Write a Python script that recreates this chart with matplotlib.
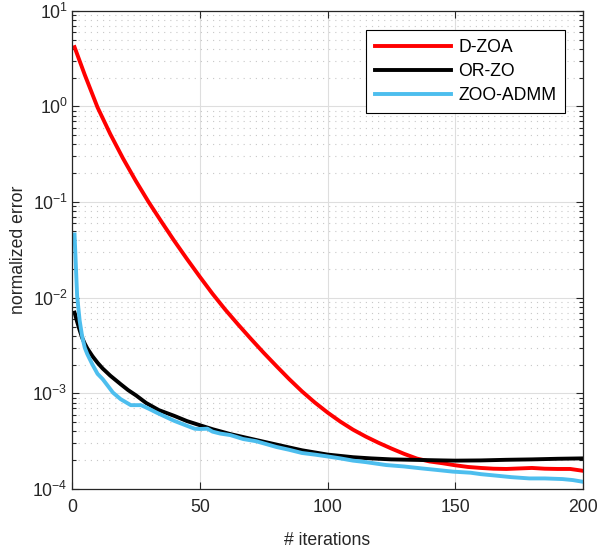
import matplotlib
matplotlib.use("Agg")
import matplotlib.pyplot as plt
from matplotlib.ticker import LogLocator, NullFormatter, FixedLocator

plt.rcParams['font.family'] = ['Liberation Sans', 'DejaVu Sans']
plt.rcParams['mathtext.fontset'] = 'custom'
plt.rcParams['mathtext.rm'] = 'Liberation Sans'
plt.rcParams['mathtext.it'] = 'Liberation Sans'
plt.rcParams['mathtext.default'] = 'regular'
plt.rcParams['axes.unicode_minus'] = False

# ---- data ----
dzoa_x = [1, 5, 10, 15, 20, 25, 30, 35, 40, 45, 50, 55, 60, 65, 70, 75, 80, 85, 90, 95,
          100, 105, 110, 115, 120, 125, 130, 135, 140, 145, 150, 155, 160, 165, 170, 175,
          180, 185, 190, 195, 200]
dzoa_y = [4.17, 2.14, 0.977, 0.513, 0.285, 0.166, 0.100, 0.0624, 0.0394, 0.0254, 0.0166,
          0.0110, 7.50e-3, 5.25e-3, 3.72e-3, 2.66e-3, 1.93e-3, 1.41e-3, 1.05e-3, 8.04e-4,
          6.31e-4, 5.07e-4, 4.17e-4, 3.53e-4, 3.04e-4, 2.65e-4, 2.33e-4, 2.08e-4, 1.94e-4,
          1.86e-4, 1.77e-4, 1.70e-4, 1.66e-4, 1.63e-4, 1.62e-4, 1.64e-4, 1.66e-4, 1.63e-4,
          1.62e-4, 1.62e-4, 1.55e-4]

orzo_x = [1, 2, 3, 4, 5, 6, 8, 10, 12, 15, 19, 22, 25, 29, 34, 40, 45, 50, 55, 62, 70, 76,
          85, 90, 100, 110, 117, 125, 137, 145, 150, 160, 170, 180, 190, 200]
orzo_y = [6.98e-3, 5.62e-3, 4.57e-3, 3.80e-3, 3.31e-3, 2.95e-3, 2.45e-3, 2.09e-3, 1.82e-3,
          1.53e-3, 1.25e-3, 1.08e-3, 9.55e-4, 7.94e-4, 6.68e-4, 5.82e-4, 5.13e-4, 4.65e-4,
          4.22e-4, 3.75e-4, 3.35e-4, 3.08e-4, 2.72e-4, 2.54e-4, 2.29e-4, 2.15e-4, 2.09e-4,
          2.04e-4, 2.01e-4, 1.99e-4, 1.98e-4, 1.99e-4, 2.02e-4, 2.04e-4, 2.07e-4, 2.09e-4]

admm_x = [1, 2, 3, 4, 5, 6, 8, 10, 12, 14, 16, 19, 23, 27, 30, 33, 37, 40, 45, 48, 50, 53,
          55, 58, 62, 67, 72, 76, 80, 85, 90, 95, 100, 105, 110, 115, 123, 130, 137, 143,
          149, 156, 160, 166, 172, 179, 185, 192, 196, 200]
admm_y = [4.58e-2, 1.05e-2, 5.75e-3, 3.9e-3, 3.0e-3, 2.57e-3, 2.0e-3, 1.6e-3, 1.41e-3, 1.20e-3,
          1.02e-3, 8.71e-4, 7.53e-4, 7.53e-4, 6.92e-4, 6.31e-4, 5.62e-4, 5.16e-4, 4.58e-4,
          4.27e-4, 4.24e-4, 4.27e-4, 3.98e-4, 3.80e-4, 3.66e-4, 3.33e-4, 3.16e-4, 2.95e-4,
          2.75e-4, 2.57e-4, 2.38e-4, 2.29e-4, 2.19e-4, 2.09e-4, 1.98e-4, 1.91e-4, 1.78e-4,
          1.72e-4, 1.64e-4, 1.58e-4, 1.52e-4, 1.48e-4, 1.43e-4, 1.38e-4, 1.33e-4, 1.29e-4,
          1.29e-4, 1.27e-4, 1.24e-4, 1.19e-4]

labels = ['D-ZOA', 'OR-ZO', 'ZOO-ADMM']
colors = ['#ff0000', '#000000', '#4DBEEE']
x_ticks = [0, 50, 100, 150, 200]

fig = plt.figure(figsize=(6.0, 5.51), dpi=100)
ax = fig.add_axes([0.12, 1 - 489 / 551, (583 - 72) / 600, (489 - 10.8) / 551])

for xs, ys, lab, c in zip([dzoa_x, orzo_x, admm_x], [dzoa_y, orzo_y, admm_y], labels, colors):
    ax.plot(xs, ys, color=c, lw=2.8, label=lab, solid_joinstyle='round')

ax.set_yscale('log')
ax.set_xlim(0, 200)
ax.set_ylim(1e-4, 1e1)
ax.xaxis.set_major_locator(FixedLocator(x_ticks))
ax.yaxis.set_major_locator(LogLocator(base=10, numticks=10))
ax.yaxis.set_minor_locator(LogLocator(base=10, subs=range(2, 10), numticks=20))
ax.yaxis.set_minor_formatter(NullFormatter())

ax.set_axisbelow(True)
ax.grid(which='major', color='#dedede', lw=0.8, ls='-')
ax.yaxis.grid(which='minor', color='#c8c8c8', lw=0.8, ls=(0, (1, 4.5)))

dark = '#262626'
for s in ax.spines.values():
    s.set_color(dark)
    s.set_linewidth(0.9)
ax.tick_params(which='both', direction='in', top=True, right=True, colors=dark,
               labelsize=12.7, width=0.8)
ax.tick_params(which='major', length=5)
ax.tick_params(which='minor', length=3)
ax.tick_params(axis='x', pad=7)
ax.tick_params(axis='y', pad=3)

ax.set_xlabel('# iterations', fontsize=12.7, color=dark, labelpad=11.5)
ax.set_ylabel('normalized error', fontsize=12.7, color=dark, labelpad=4)

leg = ax.legend(loc='upper right', bbox_to_anchor=(0.965, 0.96), borderaxespad=0,
                fontsize=12.7, fancybox=False, framealpha=1, edgecolor='black',
                handlelength=4.3, handletextpad=0.4, borderpad=0.5, labelspacing=0.4)
leg.get_frame().set_linewidth(0.8)

fig.savefig('out.png', dpi=100)
